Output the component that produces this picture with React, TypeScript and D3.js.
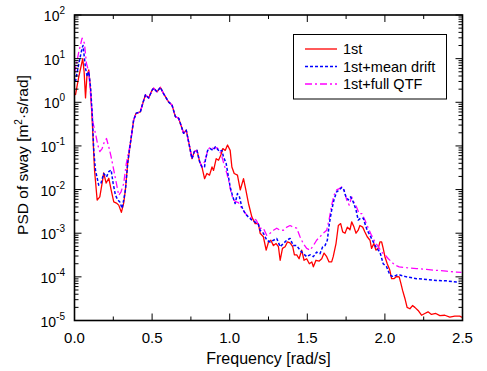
import React from "react";
import * as d3 from "d3";

// ---------- data ----------
const firstFreq = [
  0.006, 0.028, 0.053, 0.062, 0.071, 0.08, 0.092, 0.103, 0.114, 0.129, 0.146, 0.163, 0.178, 0.188, 0.204, 0.221,
  0.236, 0.253, 0.27, 0.285, 0.302, 0.317, 0.328,
  0.343, 0.36, 0.381, 0.397, 0.424, 0.442, 0.457, 0.478, 0.5, 0.51, 0.532, 0.553, 0.574, 0.606, 0.628, 0.65,
  0.671, 0.693, 0.703, 0.72, 0.735, 0.757, 0.772, 0.789, 0.806, 0.821,
  0.838, 0.853, 0.87, 0.886, 0.896, 0.913, 0.928, 0.943, 0.956, 0.971, 0.986, 1.003, 1.014, 1.029, 1.05, 1.068,
  1.089, 1.104, 1.121, 1.143, 1.164, 1.185, 1.196, 1.217, 1.235, 1.25, 1.265, 1.282, 1.299, 1.314, 1.325, 1.34,
  1.357, 1.372, 1.389, 1.406, 1.417, 1.432, 1.447, 1.464, 1.479, 1.496, 1.513, 1.529, 1.539, 1.556, 1.577, 1.593,
  1.608, 1.625, 1.64, 1.657, 1.667, 1.685, 1.7, 1.715, 1.728, 1.743, 1.758, 1.775, 1.786, 1.801, 1.814, 1.828,
  1.839, 1.857, 1.871, 1.886, 1.904, 1.914, 1.929, 1.942, 1.957, 1.968, 1.979, 1.989, 2.0, 2.015, 2.032, 2.043,
  2.058, 2.075, 2.092, 2.103, 2.114, 2.129, 2.143, 2.161, 2.178, 2.193, 2.214, 2.236, 2.257, 2.278, 2.3, 2.328,
  2.354, 2.386, 2.418, 2.45, 2.482, 2.5,
];
const firstPsd = [
  1.46, 3.9, 10, 5.0, 1.26, 4.0, 5.5, 2.0, 0.39, 0.028, 5.75e-3, 6.8e-3, 1.41e-2, 2.4e-2, 1.41e-2, 1.82e-2,
  9.8e-3, 5.2e-3, 4.9e-3, 4.4e-3, 3.0e-3, 4.9e-3, 9.8e-3,
  4.1e-2, 0.115, 0.39, 0.56, 0.6, 1.0, 1.48, 1.26, 1.9, 2.1, 1.74, 2.2, 1.58, 1.02, 0.87, 0.47,
  0.43, 0.25, 0.195, 0.23, 0.126, 0.051, 0.074, 0.079, 0.044, 0.033,
  0.0178, 0.0234, 0.0214, 0.033, 0.0275, 0.051, 0.047, 0.062, 0.087, 0.079, 0.105, 0.079, 0.033, 0.0234, 0.0214, 0.0098,
  0.0178, 0.0098, 0.0048, 0.00234, 0.00166, 0.00166, 0.001, 8.3e-4, 4.1e-4, 6.3e-4, 6.9e-4, 5.2e-4, 5.8e-4, 4.9e-4, 2.4e-4, 4.5e-4,
  4.9e-4, 6.3e-4, 6.0e-4, 4.9e-4, 3.2e-4, 3.2e-4, 2.6e-4, 4.1e-4, 2.4e-4, 2.6e-4, 2.0e-4, 2.2e-4, 1.7e-4, 2.4e-4, 2.3e-4, 2.6e-4,
  3.5e-4, 2.9e-4, 2.2e-4, 2.2e-4, 2.9e-4, 5.8e-4, 1.5e-3, 1.66e-3, 1.07e-3, 1.0e-3, 1.38e-3, 1.2e-3, 1.82e-3, 1.38e-3, 1.0e-3, 1.17e-3,
  1.5e-3, 1.38e-3, 1.07e-3, 8.3e-4, 6.9e-4, 4.5e-4, 5.8e-4, 4.1e-4, 4.5e-4, 6.3e-4, 6.3e-4, 4.5e-4, 2.9e-4, 2.0e-4, 1.41e-4, 9.1e-5,
  9.1e-5, 1.02e-4, 1.0e-4, 7.1e-5, 4.9e-5, 3.2e-5, 2.0e-5, 1.86e-5, 2.2e-5, 2.0e-5, 1.7e-5, 1.32e-5, 1.45e-5, 1.58e-5, 1.38e-5, 1.45e-5,
  1.29e-5, 1.32e-5, 1.2e-5, 1.26e-5, 1.26e-5, 1.17e-5,
];

const driftFreq = [
  0.006, 0.028, 0.049, 0.055, 0.071, 0.082, 0.092, 0.103, 0.114, 0.124, 0.135, 0.156, 0.171, 0.188, 0.206, 0.221,
  0.236, 0.249, 0.264, 0.279, 0.292, 0.307, 0.317, 0.328,
  0.343, 0.36, 0.381, 0.397, 0.424, 0.442, 0.457, 0.478, 0.5, 0.51, 0.532, 0.553, 0.574, 0.606, 0.628, 0.65,
  0.671, 0.693, 0.703, 0.72, 0.735, 0.757, 0.772, 0.789, 0.806, 0.821,
  0.838, 0.843, 0.858, 0.875, 0.892, 0.907, 0.918, 0.934, 0.95, 0.96, 0.977, 0.992, 1.003, 1.02, 1.035, 1.05,
  1.063, 1.078, 1.1, 1.121, 1.143, 1.164, 1.185, 1.196, 1.217, 1.239, 1.26, 1.282, 1.303, 1.325, 1.346, 1.368,
  1.389, 1.41, 1.432, 1.453, 1.474, 1.496, 1.518, 1.539, 1.56, 1.582, 1.599, 1.614, 1.629, 1.642, 1.657, 1.672,
  1.689, 1.706, 1.722, 1.736, 1.749, 1.764, 1.779, 1.796, 1.814, 1.828, 1.843, 1.861, 1.871, 1.886, 1.904, 1.925,
  1.947, 1.968, 1.989, 2.011, 2.032, 2.054, 2.075, 2.096, 2.139, 2.204, 2.268, 2.332, 2.396, 2.461, 2.48,
];
const driftPsd = [
  2.95, 7.8, 17.4, 20, 6.0, 3.9, 5.0, 2.3, 0.56, 0.079, 0.028, 0.0126, 0.0141, 0.0234, 0.0195, 0.0257,
  0.0282, 0.0138, 0.0074, 0.0058, 0.0052, 0.0037, 0.0058, 0.0098,
  4.1e-2, 0.115, 0.39, 0.56, 0.6, 1.0, 1.48, 1.26, 1.9, 2.1, 1.74, 2.2, 1.58, 1.02, 0.87, 0.47,
  0.43, 0.25, 0.195, 0.23, 0.126, 0.051, 0.074, 0.079, 0.044, 0.033,
  0.033, 0.047, 0.079, 0.087, 0.079, 0.095, 0.087, 0.074, 0.079, 0.056, 0.04, 0.0195, 0.0115, 0.0068, 0.0048, 0.0081,
  0.0068, 0.004, 0.0028, 0.00234, 0.002, 0.0018, 0.00158, 0.00117, 0.001, 6.9e-4, 6.3e-4, 6.9e-4, 7.6e-4, 4.9e-4, 5.8e-4, 6.9e-4,
  7.6e-4, 5.2e-4, 5.2e-4, 4.1e-4, 3.4e-4, 2.9e-4, 3.2e-4, 2.9e-4, 3.7e-4, 3.4e-4, 4.9e-4, 5.2e-4, 6.9e-4, 1.66e-3, 3.4e-3, 5.8e-3,
  8.9e-3, 9.8e-3, 0.0112, 9.8e-3, 6.8e-3, 5.8e-3, 6.8e-3, 5.2e-3, 3.4e-3, 2.0e-3, 2.2e-3, 2.2e-3, 1.66e-3, 1.17e-3, 8.9e-4, 6.3e-4,
  4.5e-4, 3.7e-4, 2.0e-4, 1.7e-4, 1.1e-4, 1.0e-4, 1.1e-4, 1.1e-4, 1.0e-4, 9.1e-5, 8.7e-5, 8.3e-5, 8.1e-5, 7.6e-5, 7.6e-5,
];

const qtfFreq = [
  0.0, 0.028, 0.049, 0.064, 0.077, 0.092, 0.108, 0.12, 0.135, 0.15, 0.163, 0.178, 0.193, 0.206, 0.221, 0.236,
  0.253, 0.27, 0.285, 0.3, 0.317, 0.334,
  0.36, 0.381, 0.397, 0.424, 0.442, 0.457, 0.478, 0.5, 0.51, 0.532, 0.553, 0.574, 0.606, 0.628, 0.65,
  0.671, 0.693, 0.703, 0.72, 0.735, 0.757, 0.772, 0.789, 0.806, 0.821,
  0.843, 0.858, 0.875, 0.896, 0.918, 0.934, 0.95, 0.965, 0.982, 0.997, 1.01, 1.025, 1.042, 1.057, 1.078, 1.11,
  1.143, 1.171, 1.196, 1.217, 1.239, 1.26, 1.282, 1.303, 1.325, 1.346, 1.368, 1.389, 1.41, 1.432, 1.453, 1.474,
  1.496, 1.518, 1.539, 1.56, 1.582, 1.603, 1.625, 1.642, 1.657, 1.672, 1.689, 1.706, 1.722, 1.736, 1.754, 1.77,
  1.786, 1.8, 1.817, 1.834, 1.852, 1.871, 1.893, 1.914, 1.936, 1.957, 1.979, 2.0, 2.022, 2.043, 2.064, 2.092,
  2.139, 2.204, 2.268, 2.332, 2.396, 2.461, 2.493,
];
const qtfPsd = [
  4.6, 14.5, 29.5, 22.4, 7.8, 5.0, 0.93, 0.33, 0.195, 0.105, 0.074, 0.087, 0.126, 0.148, 0.095, 0.056,
  0.028, 0.0138, 0.0074, 0.0089, 0.0138, 0.04,
  0.115, 0.39, 0.56, 0.6, 1.0, 1.48, 1.26, 1.9, 2.1, 1.74, 2.2, 1.58, 1.02, 0.87, 0.47,
  0.43, 0.25, 0.195, 0.23, 0.126, 0.051, 0.074, 0.079, 0.044, 0.033,
  0.047, 0.079, 0.095, 0.087, 0.091, 0.079, 0.056, 0.036, 0.0234, 0.0138, 0.0081, 0.0058, 0.0052, 0.005, 0.0037, 0.0026,
  0.0022, 0.002, 0.0013, 0.0013, 8.9e-4, 1.0e-3, 1.17e-3, 1.3e-3, 1.17e-3, 1.17e-3, 1.38e-3, 1.5e-3, 1.38e-3, 1.3e-3, 8.3e-4, 5.8e-4,
  4.5e-4, 4.1e-4, 5.2e-4, 6.9e-4, 8.3e-4, 1.0e-3, 1.17e-3, 2.2e-3, 4.4e-3, 7.4e-3, 9.8e-3, 0.0105, 0.0115, 9.8e-3, 5.8e-3, 4.4e-3,
  6.8e-3, 5.2e-3, 4.0e-3, 2.8e-3, 2.8e-3, 2.0e-3, 1.3e-3, 8.9e-4, 6.3e-4, 4.9e-4, 3.7e-4, 3.2e-4, 2.6e-4, 2.2e-4, 1.86e-4, 1.7e-4,
  1.62e-4, 1.55e-4, 1.48e-4, 1.41e-4, 1.35e-4, 1.29e-4, 1.26e-4,
];

const seriesNames = ["1st", "1st+mean drift", "1st+full QTF"];
const xTickLabels = ["0.0", "0.5", "1.0", "1.5", "2.0", "2.5"];
const yExponents = [-5, -4, -3, -2, -1, 0, 1, 2];

// ---------- layout ----------
const W = 487;
const H = 371;
const L = 74.5;
const R = 462.5;
const T = 15;
const B = 320.5;
const FONT = "'Liberation Sans', Arial, Helvetica, sans-serif";

export default function App() {
  const x = d3.scaleLinear().domain([0, 2.5]).range([L, R]);
  const y = d3.scaleLog().domain([1e-5, 1e2]).range([B, T]);

  const line = d3
    .line<[number, number]>()
    .x((d) => x(d[0]))
    .y((d) => y(d[1]));

  const zip = (f: number[], v: number[]) => f.map((fi, i) => [fi, v[i]] as [number, number]);

  const series = [
    { name: seriesNames[0], data: zip(firstFreq, firstPsd), color: "#ff0000", dash: "none", width: 1.3 },
    { name: seriesNames[2], data: zip(qtfFreq, qtfPsd), color: "#ff00ff", dash: "7,3,2,3", width: 1.3 },
    { name: seriesNames[1], data: zip(driftFreq, driftPsd), color: "#0000ff", dash: "3,2", width: 1.5 },
  ];
  const legendOrder = [series[0], series[2], series[1]];

  const xMajor = xTickLabels.map((t) => +t);
  const xMinor = d3.range(0.25, 2.5, 0.5);
  const yMinor: number[] = [];
  for (let e = -5; e < 2; e++) for (let m = 2; m <= 9; m++) yMinor.push(m * Math.pow(10, e));

  return (
    <svg
      width={W}
      height={H}
      style={{ position: "absolute", left: 0, top: 0, background: "#fff" }}
      fontFamily={FONT}
    >
      <defs>
        <clipPath id="plotclip">
          <rect x={L} y={T} width={R - L} height={B - T} />
        </clipPath>
      </defs>
      <rect x={0} y={0} width={W} height={H} fill="#fff" />

      <g clipPath="url(#plotclip)">
        {series.map((s) => (
          <path
            key={s.name}
            d={line(s.data) || ""}
            fill="none"
            stroke={s.color}
            strokeWidth={s.width}
            strokeDasharray={s.dash}
            strokeLinejoin="round"
          />
        ))}
      </g>

      {/* ticks */}
      <g stroke="#000" strokeWidth={1}>
        {xMajor.map((v) => (
          <g key={"xM" + v}>
            <line x1={x(v)} x2={x(v)} y1={B} y2={B - 7} />
            <line x1={x(v)} x2={x(v)} y1={T} y2={T + 7} />
          </g>
        ))}
        {xMinor.map((v) => (
          <g key={"xm" + v}>
            <line x1={x(v)} x2={x(v)} y1={B} y2={B - 4} />
            <line x1={x(v)} x2={x(v)} y1={T} y2={T + 4} />
          </g>
        ))}
        {yExponents.map((e) => (
          <g key={"yM" + e}>
            <line x1={L} x2={L + 7} y1={y(Math.pow(10, e))} y2={y(Math.pow(10, e))} />
            <line x1={R} x2={R - 7} y1={y(Math.pow(10, e))} y2={y(Math.pow(10, e))} />
          </g>
        ))}
        {yMinor.map((v, i) => (
          <g key={"ym" + i}>
            <line x1={L} x2={L + 4} y1={y(v)} y2={y(v)} />
            <line x1={R} x2={R - 4} y1={y(v)} y2={y(v)} />
          </g>
        ))}
      </g>

      {/* frame */}
      <rect x={L} y={T} width={R - L} height={B - T} fill="none" stroke="#000" strokeWidth={1.6} />

      {/* tick labels */}
      <g fill="#000">
        {xTickLabels.map((t) => (
          <text key={"xl" + t} x={x(+t)} y={343} textAnchor="middle" fontSize={15}>
            {t}
          </text>
        ))}
        {yExponents.map((e) => (
          <text key={"yl" + e} x={65} y={y(Math.pow(10, e)) + 6} textAnchor="end" fontSize={14}>
            <tspan>10</tspan>
            <tspan dy={-7} fontSize={10}>
              {String(e)}
            </tspan>
          </text>
        ))}
      </g>

      {/* axis titles */}
      <text x={(L + R) / 2} y={364} textAnchor="middle" fontSize={16} fill="#000">
        Frequency [rad/s]
      </text>
      <text
        transform={`translate(28, 155) rotate(-90)`}
        textAnchor="middle"
        fontSize={15.5}
        fill="#000"
      >
        <tspan>PSD of sway [m</tspan>
        <tspan dy={-6} fontSize={10}>2</tspan>
        <tspan dy={6}>·s/rad]</tspan>
      </text>

      {/* legend */}
      <rect x={293.5} y={34.5} width={153} height={64.5} fill="#fff" stroke="#000" strokeWidth={1} />
      {legendOrder.map((s, i) => {
        const ly = 49 + i * 17.5;
        return (
          <g key={"lg" + s.name}>
            <line
              x1={305}
              x2={337}
              y1={ly}
              y2={ly}
              stroke={s.color}
              strokeWidth={s.width}
              strokeDasharray={s.dash}
            />
            <text x={343} y={ly + 5} fontSize={14.5} fill="#000">
              {s.name}
            </text>
          </g>
        );
      })}
    </svg>
  );
}
